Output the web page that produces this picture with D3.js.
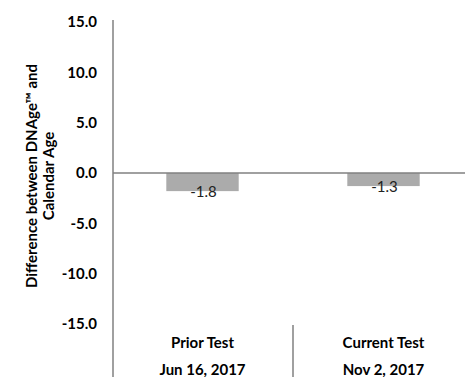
<!DOCTYPE html>
<html><head><meta charset="utf-8">
<script src="https://cdn.jsdelivr.net/npm/d3@7"></script>
<style>body{margin:0;background:#fff}svg{display:block}text{font-family:Lato,"Open Sans",sans-serif}</style>
</head><body>
<svg id="c" width="465" height="377"></svg>
<script>
const categories = ["Prior Test", "Current Test"];
const dates = ["Jun 16, 2017", "Nov 2, 2017"];
const values = [-1.8, -1.3];
const yTicks = [15, 10, 5, 0, -5, -10, -15];

const fmt = d => d3.format(".1f")(d).replace("\u2212", "-");
const svg = d3.select("#c");
const x = d3.scaleBand().domain(categories).range([112, 474]).paddingInner(0).paddingOuter(0);
const y = d3.scaleLinear().domain([-15, 15]).range([324, 22]);
const bw = x.bandwidth() * 0.4;

svg.append("line").attr("x1", 113).attr("x2", 113).attr("y1", 20).attr("y2", 377)
  .attr("stroke", "#808080").attr("stroke-width", 1.5);
svg.selectAll("text.yt").data(yTicks).join("text").attr("class", "yt")
  .attr("x", 97).attr("y", d => y(d)).attr("dy", "0.35em").attr("text-anchor", "end")
  .attr("font-size", 15).attr("font-weight", "bold").attr("fill", "#000")
  .text(fmt);
svg.selectAll("rect.bar").data(values).join("rect").attr("class", "bar")
  .attr("x", (d, i) => x(categories[i]) + (x.bandwidth() - bw) / 2)
  .attr("width", bw)
  .attr("y", d => y(Math.max(0, d)))
  .attr("height", d => Math.abs(y(d) - y(0)))
  .attr("fill", "#ababab");
svg.append("line").attr("x1", 113).attr("x2", 465).attr("y1", y(0)).attr("y2", y(0))
  .attr("stroke", "#808080").attr("stroke-width", 1.5);
svg.selectAll("text.dl").data(values).join("text").attr("class", "dl")
  .attr("x", (d, i) => x(categories[i]) + x.bandwidth() / 2 + 1)
  .attr("y", d => y(d) + 6).attr("text-anchor", "middle")
  .attr("font-size", 15).attr("fill", "#222")
  .text(fmt);
svg.selectAll("text.cat").data(categories).join("text").attr("class", "cat")
  .attr("x", d => x(d) + x.bandwidth() / 2).attr("y", 348).attr("text-anchor", "middle")
  .attr("font-size", 15).attr("font-weight", "bold").text(d => d);
svg.selectAll("text.date").data(dates).join("text").attr("class", "date")
  .attr("x", (d, i) => x(categories[i]) + x.bandwidth() / 2).attr("y", 375).attr("text-anchor", "middle")
  .attr("font-size", 15).attr("font-weight", "bold").text(d => d);
svg.append("line").attr("x1", x(categories[1])).attr("x2", x(categories[1])).attr("y1", 325).attr("y2", 377)
  .attr("stroke", "#808080").attr("stroke-width", 1.5);
const t = svg.append("text").attr("transform", "translate(0,176) rotate(-90)")
  .attr("text-anchor", "middle").attr("font-size", 15).attr("font-weight", "bold");
t.append("tspan").attr("x", 0).attr("y", 37).text("Difference between DNAge™ and");
t.append("tspan").attr("x", 0).attr("y", 54).text("Calendar Age");
</script>
</body></html>
